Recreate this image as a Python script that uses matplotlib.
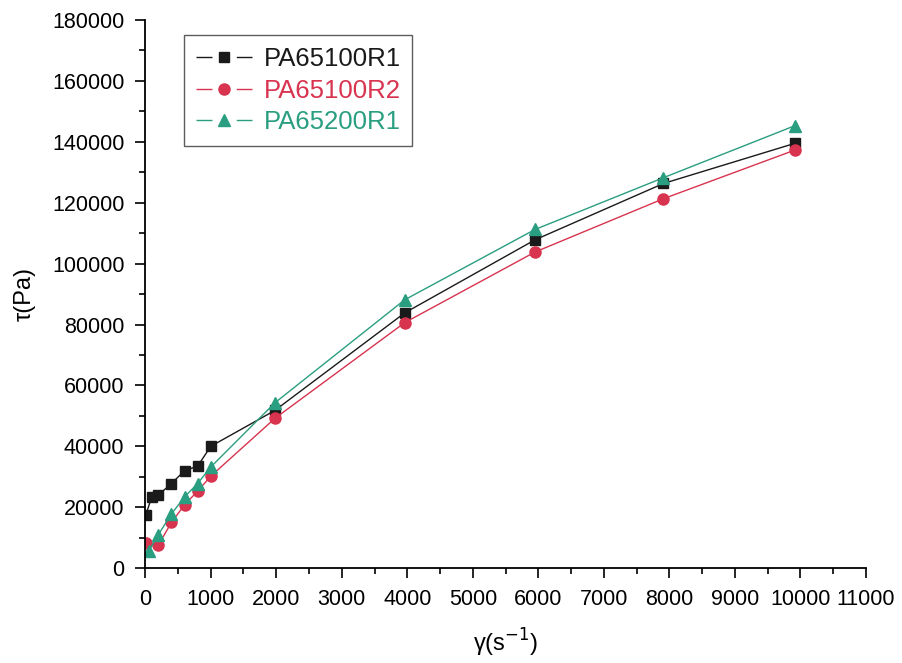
import matplotlib
matplotlib.use("Agg")
import matplotlib.pyplot as plt
from matplotlib.ticker import MultipleLocator

plt.rcParams['font.family'] = ['Liberation Sans', 'DejaVu Sans']

# === DATA ===
x_r1 = [10, 100, 200, 400, 600, 800, 1000, 1980, 3960, 5950, 7910, 9920]
y_r1 = [17500, 23500, 24000, 27800, 32000, 33500, 40000, 51800, 83800, 107800, 126300, 139500]

x_r2 = [10, 200, 400, 600, 800, 1000, 1980, 3960, 5950, 7910, 9920]
y_r2 = [8300, 7600, 15000, 20800, 25300, 30200, 49200, 80600, 103800, 121300, 137300]

x_r3 = [60, 200, 400, 600, 800, 1000, 1980, 3960, 5950, 7910, 9920]
y_r3 = [5800, 11000, 17800, 23400, 27800, 33200, 54300, 88100, 111200, 128200, 145300]

labels = ["PA65100R1", "PA65100R2", "PA65200R1"]
colors = ["#1a1a1a", "#d8334f", "#2a9e80"]

# === PLOT ===
fig = plt.figure(figsize=(9.02, 6.63), dpi=100)
ax = fig.add_axes([0.161, 0.143, 0.799, 0.827])

ax.plot(x_r1, y_r1, color=colors[0], marker="s", markersize=7, lw=1, label=labels[0])
ax.plot(x_r2, y_r2, color=colors[1], marker="o", markersize=8, lw=1, label=labels[1])
ax.plot(x_r3, y_r3, color=colors[2], marker="^", markersize=8.5, lw=1, label=labels[2])

ax.set_xlim(0, 11000)
ax.set_ylim(0, 180000)
ax.xaxis.set_major_locator(MultipleLocator(1000))
ax.xaxis.set_minor_locator(MultipleLocator(500))
ax.yaxis.set_major_locator(MultipleLocator(20000))
ax.yaxis.set_minor_locator(MultipleLocator(10000))
ax.tick_params(which="major", direction="out", length=7, width=1.2, labelsize=15.5, pad=8)
ax.tick_params(which="minor", direction="out", length=4, width=1.2)

for s in ["top", "right"]:
    ax.spines[s].set_visible(False)
for s in ["left", "bottom"]:
    ax.spines[s].set_linewidth(1.3)

ax.set_xlabel("γ(s$^{-1}$)", fontsize=17, labelpad=12)
ax.set_ylabel("τ(Pa)", fontsize=17, labelpad=12)

leg = ax.legend(loc="upper left", bbox_to_anchor=(0.036, 0.995), fontsize=18.5,
                frameon=True, fancybox=False, edgecolor="#333333",
                handlelength=2.2, handletextpad=0.45, borderpad=0.45, labelspacing=0.3)
leg.get_frame().set_linewidth(1.0)
for txt, c in zip(leg.get_texts(), colors):
    txt.set_color(c)
# line - marker - line, with gaps round the marker
for line in leg.get_lines():
    line.set_linestyle((0, (11.5, 17.5, 11.5)))

fig.savefig("out.png", dpi=100)
